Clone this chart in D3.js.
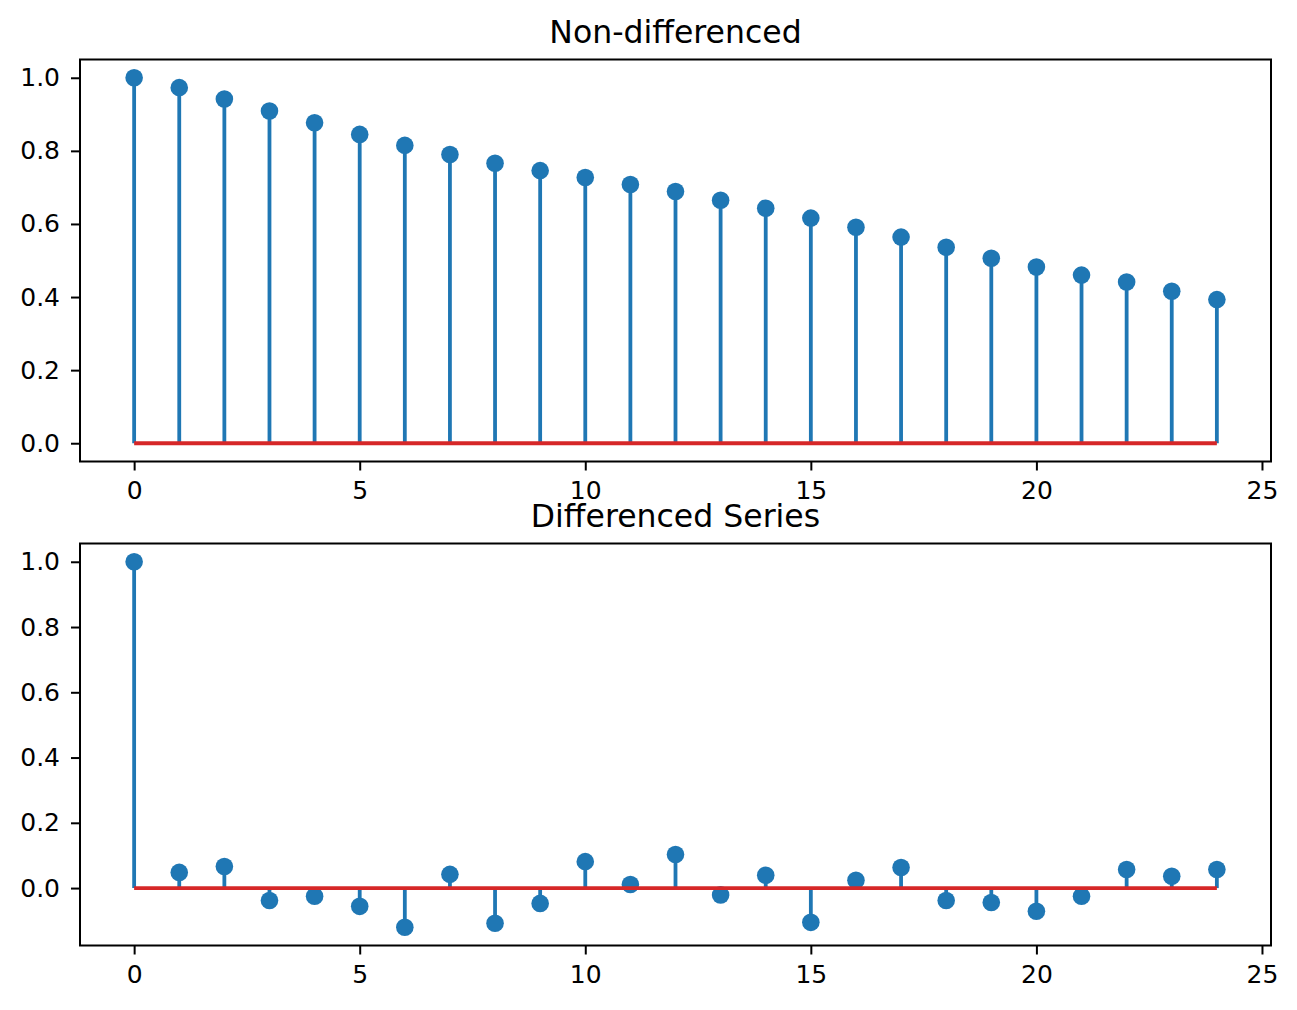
<!DOCTYPE html>
<html>
<head>
<meta charset="utf-8">
<script src="https://cdn.jsdelivr.net/npm/d3@7"></script>
<style>
  html, body { margin: 0; padding: 0; background: #ffffff; }
  svg { display: block; }
  text { font-family: "DejaVu Sans", sans-serif; fill: #000; }
</style>
</head>
<body>
<svg id="chart" width="1297" height="1010"></svg>
<script>
// ---- Data ----
const lags = [0,1,2,3,4,5,6,7,8,9,10,11,12,13,14,15,16,17,18,19,20,21,22,23,24];
const acfNonDiff = [1.0, 0.973, 0.942, 0.909, 0.877, 0.845, 0.815, 0.790, 0.766, 0.746, 0.727, 0.708, 0.689,
                    0.665, 0.643, 0.616, 0.591, 0.564, 0.536, 0.506, 0.482, 0.460, 0.441, 0.416, 0.393];
const acfDiff = [1.0, 0.048, 0.066, -0.038, -0.025, -0.056, -0.120, 0.042, -0.108, -0.047, 0.081, 0.011, 0.103,
                 -0.021, 0.039, -0.105, 0.024, 0.063, -0.038, -0.044, -0.071, -0.025, 0.057, 0.036, 0.057];
const titles = ["Non-differenced", "Differenced Series"];
const xTicks = [0, 5, 10, 15, 20, 25];
const yTicks = [0.0, 0.2, 0.4, 0.6, 0.8, 1.0];

const svg = d3.select("#chart");
const W = 1297, H = 1010;
svg.append("rect").attr("width", W).attr("height", H).attr("fill", "#fff");

const STEM = "#1f77b4", BASE = "#d62728";

function margins(vals) {
  const lo = Math.min(0, d3.min(vals)), hi = Math.max(0, d3.max(vals));
  const m = (hi - lo) * 0.05;
  return [lo - m, hi + m];
}

function panel(values, title, top, bottom) {
  const left = 80, right = 1271;
  const x = d3.scaleLinear().domain([-1.2, 25.2]).range([left, right]);
  const y = d3.scaleLinear().domain(margins(values)).range([bottom, top]);
  const g = svg.append("g");

  // stems
  g.selectAll("line.stem").data(lags).enter().append("line")
    .attr("x1", d => x(d)).attr("x2", d => x(d))
    .attr("y1", y(0)).attr("y2", (d, i) => y(values[i]))
    .attr("stroke", STEM).attr("stroke-width", 3.8);
  // markers
  g.selectAll("circle").data(lags).enter().append("circle")
    .attr("cx", d => x(d)).attr("cy", (d, i) => y(values[i]))
    .attr("r", 8.8).attr("fill", STEM);
  // baseline
  g.append("line")
    .attr("x1", x(lags[0])).attr("x2", x(lags[lags.length - 1]))
    .attr("y1", y(0)).attr("y2", y(0))
    .attr("stroke", BASE).attr("stroke-width", 3.8);

  // axes
  const yt = yTicks.filter(t => t >= y.domain()[0] && t <= y.domain()[1]);
  const ax = g.append("g").attr("transform", `translate(0,${bottom})`)
    .call(d3.axisBottom(x).tickValues(xTicks).tickFormat(d3.format("d")).tickSize(9).tickPadding(11));
  const ay = g.append("g").attr("transform", `translate(${left},0)`)
    .call(d3.axisLeft(y).tickValues(yt).tickFormat(d3.format(".1f")).tickSize(9).tickPadding(11));
  [ax, ay].forEach(a => {
    a.select(".domain").remove();
    a.selectAll("line").attr("stroke", "#000").attr("stroke-width", 2);
    a.selectAll("text").attr("font-size", 25).attr("font-family", "DejaVu Sans").attr("fill", "#000");
  });

  // frame
  g.append("rect").attr("x", left).attr("y", top)
    .attr("width", right - left).attr("height", bottom - top)
    .attr("fill", "none").attr("stroke", "#000").attr("stroke-width", 2);

  // title
  g.append("text").attr("x", (left + right) / 2).attr("y", top - 17)
    .attr("text-anchor", "middle").attr("font-size", 31.5).text(title);
}

panel(acfNonDiff, titles[0], 59.5, 461.5);
panel(acfDiff, titles[1], 543.5, 945.5);
</script>
</body>
</html>
